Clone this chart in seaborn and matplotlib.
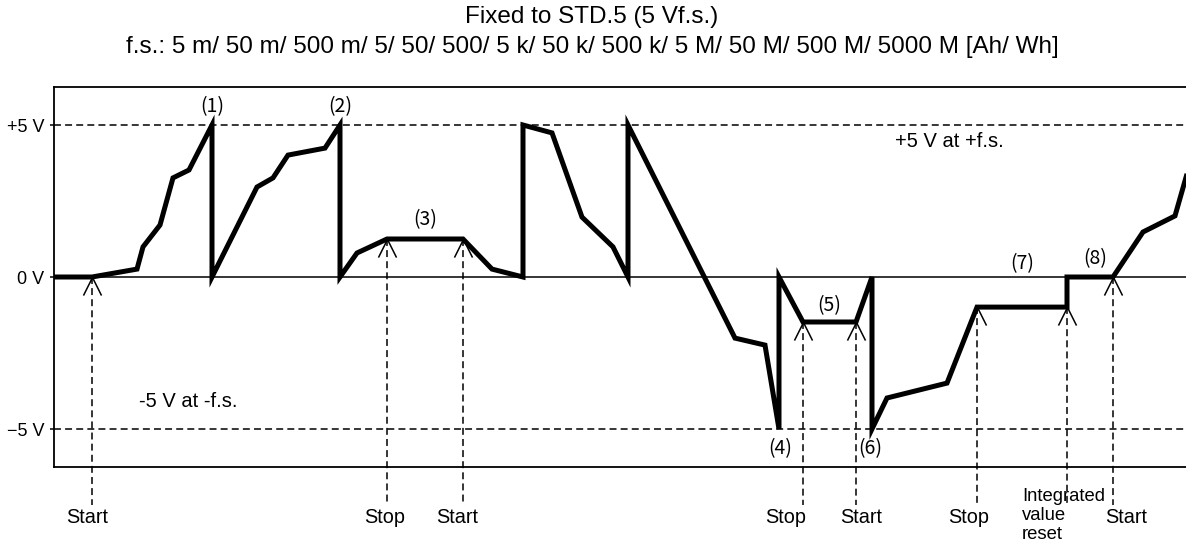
"""Integrated value analog output timing chart (STD.5)."""

import matplotlib.pyplot as plt
from matplotlib.path import Path
import seaborn as sns

# output voltage trace (t in chart units, V in volts)
trace_t = [0, 38, 83, 89, 106, 119, 135, 158, 158, 203, 219, 234, 271, 286, 286,
           303, 333, 409, 438, 469, 469, 498, 528, 559, 574, 574, 681, 711, 725,
           725, 749, 802, 818, 818, 833, 893, 923, 1013, 1013, 1059, 1089, 1121, 1140]
trace_v = [0, 0, 0.26, 0.99, 1.71, 3.26, 3.52, 5.0, 0, 2.96, 3.26, 4.01, 4.24, 5.0, 0,
           0.79, 1.25, 1.25, 0.26, 0, 5.0, 4.74, 1.97, 0.99, 0, 5.0, -2.01, -2.24, -5.0,
           0, -1.48, -1.48, 0, -5.0, -3.98, -3.49, -0.99, -0.99, 0, 0, 1.48, 2.01, 4.2]

# start / stop / reset events
event_t = [38, 333, 409, 749, 802, 923, 1013, 1059]
event_v = [0, 1.25, 1.25, -1.48, -1.48, -0.99, -0.99, 0]
event_labels = ["Start", "Stop", "Start", "Stop", "Start", "Stop",
                "Integrated\nvalue\nreset", "Start"]

# numbered call-outs
callout_labels = ["(1)", "(2)", "(3)", "(4)", "(5)", "(6)", "(7)", "(8)"]
callout_t = [158, 286, 371, 726, 775, 816, 968, 1041]
callout_v = [5.6, 5.6, 1.88, -5.65, -0.95, -5.65, 0.44, 0.59]

ytick_vals = [5, 0, -5]
ytick_labels = ["+5 V", "0 V", "\u22125 V"]

title_1 = "Fixed to STD.5 (5 Vf.s.)"
title_2 = ("f.s.: 5 m/ 50 m/ 500 m/ 5/ 50/ 500/ 5 k/ 50 k/ 500 k/ 5 M/ 50 M/ "
           "500 M/ 5000 M [Ah/ Wh]")

sns.set_theme(style="white")
plt.rcParams["font.family"] = ["Liberation Sans", "DejaVu Sans"]
plt.rcParams["lines.scale_dashes"] = False
plt.rcParams["text.color"] = "black"
plt.rcParams["ytick.color"] = "black"

W, H = 1186, 556
fig = plt.figure(figsize=(W / 100, H / 100), dpi=100)
ax = fig.add_axes([54 / W, (H - 467) / H, (W - 54) / W, 380 / H])
ax.set_xlim(0, W - 54)
ax.set_ylim(-6.25, 6.25)

ax.axhline(0, color="black", lw=1.1, zorder=1)
for lvl in (5, -5):
    ax.axhline(lvl, color="black", lw=1.1, dashes=(5, 3), zorder=1)

sns.lineplot(x=trace_t, y=trace_v, sort=False, estimator=None, color="black",
             lw=3.6, ax=ax, zorder=3, solid_joinstyle="miter", solid_capstyle="butt")

# dashed event lines with open arrow heads
chevron = Path([(-0.5, -1.0), (0, 0), (0.5, -1.0)],
               [Path.MOVETO, Path.LINETO, Path.LINETO])
for t, v in zip(event_t, event_v):
    ax.plot([t, t], [v, -7.5], color="black", lw=1.1, dashes=(5, 3),
            clip_on=False, zorder=2)
ax.plot(event_t, event_v, ls="none", marker=chevron, ms=26, mfc="none",
        mec="black", mew=1.1, zorder=4)

label_dx = [-5, -2, -6, -17, 5, -8, None, 13]
for t, lab, dx in zip(event_t, event_labels, label_dx):
    if dx is None:
        ax.text(t - 45, -6.95, lab, ha="left", va="top", fontsize=13.3,
                linespacing=1.15, clip_on=False)
    else:
        ax.text(t + dx, -7.9, lab, ha="center", va="center", fontsize=14.3,
                clip_on=False)

for lab, t, v in zip(callout_labels, callout_t, callout_v):
    ax.text(t, v, lab, ha="center", va="center", fontsize=14,
            family=["Noto Sans CJK JP", "DejaVu Sans"])

ax.text(895, 4.47, "+5 V at +f.s.", ha="center", va="center", fontsize=14.5)
ax.text(134, -4.1, "-5 V at -f.s.", ha="center", va="center", fontsize=14.5)

ax.set_yticks(ytick_vals)
ax.set_yticklabels(ytick_labels, fontsize=13)
ax.set_xticks([])
ax.tick_params(axis="y", left=True, length=3, width=1.1, pad=4, color="black",
               labelcolor="black")
for side in ("left", "top", "bottom"):
    ax.spines[side].set_color("black")
    ax.spines[side].set_linewidth(1.3)
ax.spines["right"].set_visible(False)

fig.text(592 / W, 1 - 17 / H, title_1, ha="center", va="center", fontsize=17.5)
fig.text(592 / W, 1 - 47 / H, title_2, ha="center", va="center", fontsize=17.5)

fig.savefig("out.png", dpi=100, facecolor="white")
